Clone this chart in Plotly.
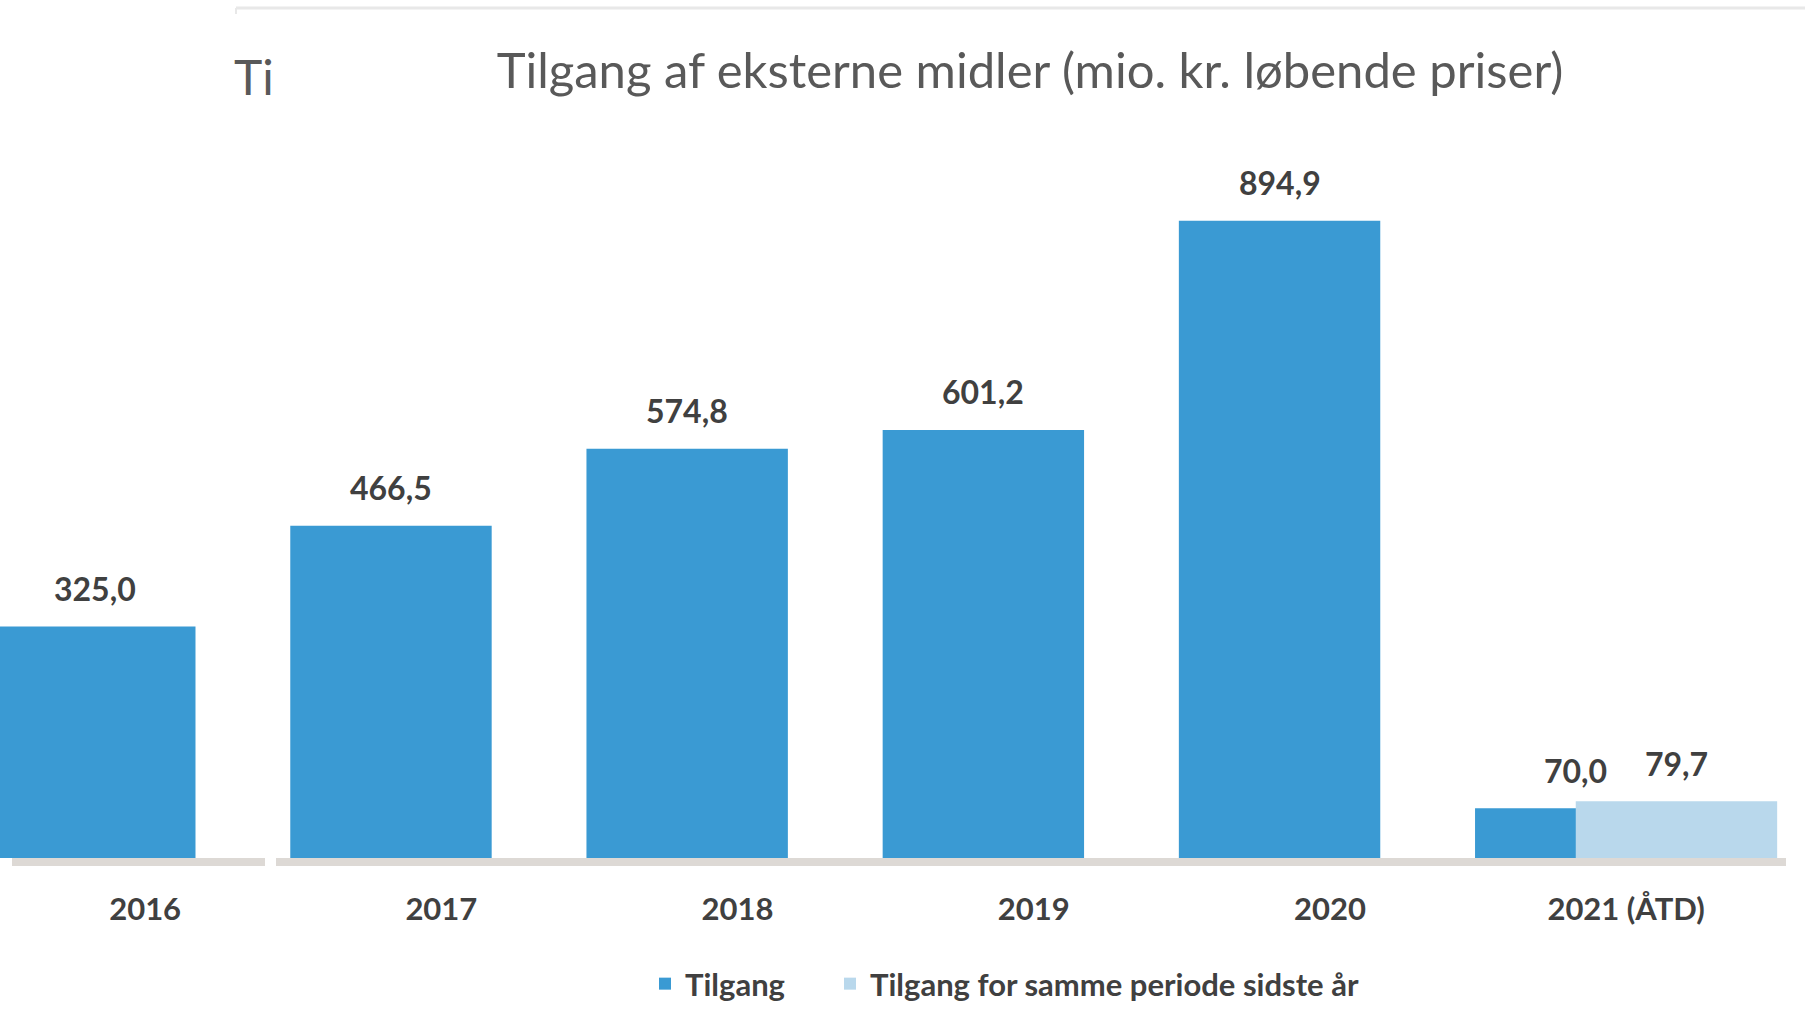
import plotly.graph_objects as go

# ---- data ----
categories = ["2016", "2017", "2018", "2019", "2020", "2021 (ÅTD)"]
tilgang = [325.0, 466.5, 574.8, 601.2, 894.9, 70.0]
samme_periode = [None, None, None, None, None, 79.7]
label_tilgang = ["325,0", "466,5", "574,8", "601,2", "894,9", "70,0"]
label_samme = [None, None, None, None, None, "79,7"]

title_text = "Tilgang af eksterne midler (mio. kr. løbende priser)"
series_names = ["Tilgang", "Tilgang for samme periode sidste år"]

# ---- style ----
W, H = 1805, 1035
M_L, M_R, M_T, M_B = 0, 0, 146, 177
X_RANGE = [-0.49, 5.604]
Y_RANGE = [0, 1000]
BAR_W = 0.68
DARK = "#3A9AD3"
LIGHT = "#B9D8EC"
TXT = "#404040"
FONT = "Lato"

plot_w = W - M_L - M_R
plot_h = H - M_T - M_B
px_per_unit = plot_w / (X_RANGE[1] - X_RANGE[0])

off1 = -0.75 * BAR_W
off2 = -0.25 * BAR_W
c1 = (off1 + BAR_W / 2) * px_per_unit
c2 = (off2 + BAR_W / 2) * px_per_unit

fig = go.Figure()
fig.add_trace(go.Bar(
    x=categories, y=tilgang, name=series_names[0],
    marker=dict(color=DARK, line=dict(width=0)),
    width=[BAR_W] * len(categories), offset=[off1] * len(categories),
    legendwidth=140,
))
fig.add_trace(go.Bar(
    x=categories, y=samme_periode, name=series_names[1],
    marker=dict(color=LIGHT, line=dict(width=0)),
    width=[BAR_W] * len(categories), offset=[off2] * len(categories),
))

lbl_font = dict(family=FONT, size=32, color=TXT, weight="bold")
tick_font = dict(family=FONT, size=31, color=TXT, weight="bold")
leg_font = dict(family=FONT, size=31, color=TXT, weight="bold")
annotations = []
for i, (v, lab) in enumerate(zip(tilgang, label_tilgang)):
    if v is not None:
        annotations.append(dict(x=i, y=v, xref="x", yref="y", text=lab,
                                showarrow=False, xshift=c1, yshift=38,
                                yanchor="middle", font=lbl_font))
for i, (v, lab) in enumerate(zip(samme_periode, label_samme)):
    if v is not None:
        annotations.append(dict(x=i, y=v, xref="x", yref="y", text=lab,
                                showarrow=False, xshift=c2, yshift=38,
                                yanchor="middle", font=lbl_font))


def py(page_y):
    return (H - M_B - page_y) / plot_h


# clipped fragment at top-left
annotations.append(dict(x=232 / W, y=py(76), xref="paper", yref="paper",
                        text="Ti", showarrow=False, xanchor="left", yanchor="middle",
                        font=dict(family=FONT, size=48, color="#595959")))

shapes = [
    # top frame line
    dict(type="line", xref="paper", yref="paper", x0=236 / W, x1=1.0, y0=py(8), y1=py(8),
         line=dict(color="#E8E8E8", width=3)),
    dict(type="line", xref="paper", yref="paper", x0=236 / W, x1=236 / W, y0=py(8), y1=py(14),
         line=dict(color="#E8E8E8", width=2)),
    # axis baseline (two segments)
    dict(type="rect", xref="paper", yref="paper", x0=12 / W, x1=265 / W, y0=0, y1=py(866),
         line=dict(width=0), fillcolor="#DDD9D5", layer="below"),
    dict(type="rect", xref="paper", yref="paper", x0=276 / W, x1=1786 / W, y0=0, y1=py(866),
         line=dict(width=0), fillcolor="#DDD9D5", layer="below"),
]

fig.update_layout(
    width=W, height=H,
    margin=dict(l=M_L, r=M_R, t=M_T, b=M_B, pad=0),
    paper_bgcolor="white", plot_bgcolor="white",
    barmode="overlay",
    title=dict(text=title_text, x=1030 / W, xanchor="center", y=1 - 71 / H, yanchor="middle",
               font=dict(family=FONT, size=49, color="#595959")),
    xaxis=dict(type="category", range=X_RANGE, showgrid=False, showline=False, zeroline=False,
               ticks="", ticklabelstandoff=30, tickfont=tick_font),
    yaxis=dict(range=Y_RANGE, visible=False, showgrid=False, zeroline=False),
    legend=dict(orientation="h", x=645 / W, xanchor="left", y=py(984), yanchor="middle",
                font=leg_font, itemwidth=30, traceorder="normal"),
    annotations=annotations,
    shapes=shapes,
    showlegend=True,
)

fig.write_html("out.html", config={"displayModeBar": False},
               post_script="document.body.style.margin='0';document.body.style.overflow='hidden';")
